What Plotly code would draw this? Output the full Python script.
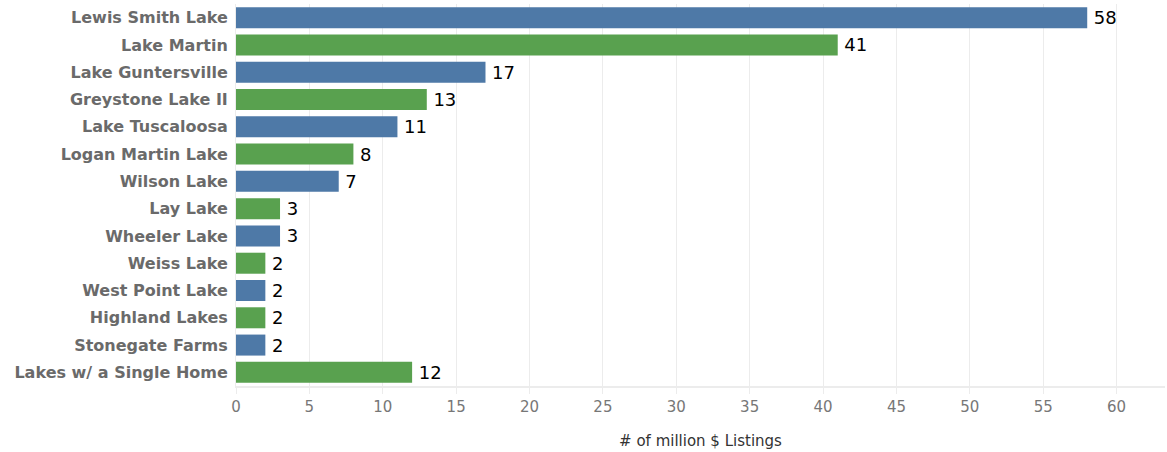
import plotly.graph_objects as go

# Number of million-dollar listings per lake
lakes = [
    "Lewis Smith Lake", "Lake Martin", "Lake Guntersville", "Greystone Lake II",
    "Lake Tuscaloosa", "Logan Martin Lake", "Wilson Lake", "Lay Lake",
    "Wheeler Lake", "Weiss Lake", "West Point Lake", "Highland Lakes",
    "Stonegate Farms", "Lakes w/ a Single Home",
]
listings = [58, 41, 17, 13, 11, 8, 7, 3, 3, 2, 2, 2, 2, 12]
palette = ["#4e79a7", "#59a14f"]
x_ticks = [0, 5, 10, 15, 20, 25, 30, 35, 40, 45, 50, 55, 60]

bar_colors = [palette[i % 2] for i in range(len(lakes))]

fig = go.Figure(
    go.Bar(
        x=listings,
        y=lakes,
        orientation="h",
        marker=dict(color=bar_colors, line=dict(width=0)),
        width=0.77,
        texttemplate="\u2009%{x}",
        textposition="outside",
        textfont=dict(family="DejaVu Sans", size=18, color="#000000"),
        cliponaxis=False,
        hoverinfo="skip",
    )
)

fig.update_layout(
    width=1167,
    height=452,
    margin=dict(l=236, r=2, t=4, b=66),
    plot_bgcolor="#ffffff",
    paper_bgcolor="#ffffff",
    showlegend=False,
    font=dict(family="DejaVu Sans"),
)

fig.update_xaxes(
    range=[0, 63.3],
    tickvals=x_ticks,
    ticktext=[str(t) for t in x_ticks],
    showgrid=True,
    gridcolor="#ececec",
    gridwidth=1,
    zeroline=False,
    showline=True,
    linecolor="#ececec",
    linewidth=2,
    ticks="outside",
    ticklen=6,
    tickcolor="#ececec",
    tickfont=dict(family="DejaVu Sans", size=15, color="#777777"),
    title=dict(
        text="# of million $ Listings",
        font=dict(family="DejaVu Sans", size=15, color="#333333"),
        standoff=20,
    ),
)

fig.update_yaxes(
    categoryorder="array",
    categoryarray=lakes[::-1],
    autorange=True,
    showgrid=False,
    zeroline=False,
    showline=True,
    linecolor="#ececec",
    linewidth=1,
    ticks="",
    ticklabelstandoff=4,
    tickfont=dict(family="DejaVu Sans", size=16, color="#6a6a6a", weight="bold"),
)

fig.write_html("out.html")
